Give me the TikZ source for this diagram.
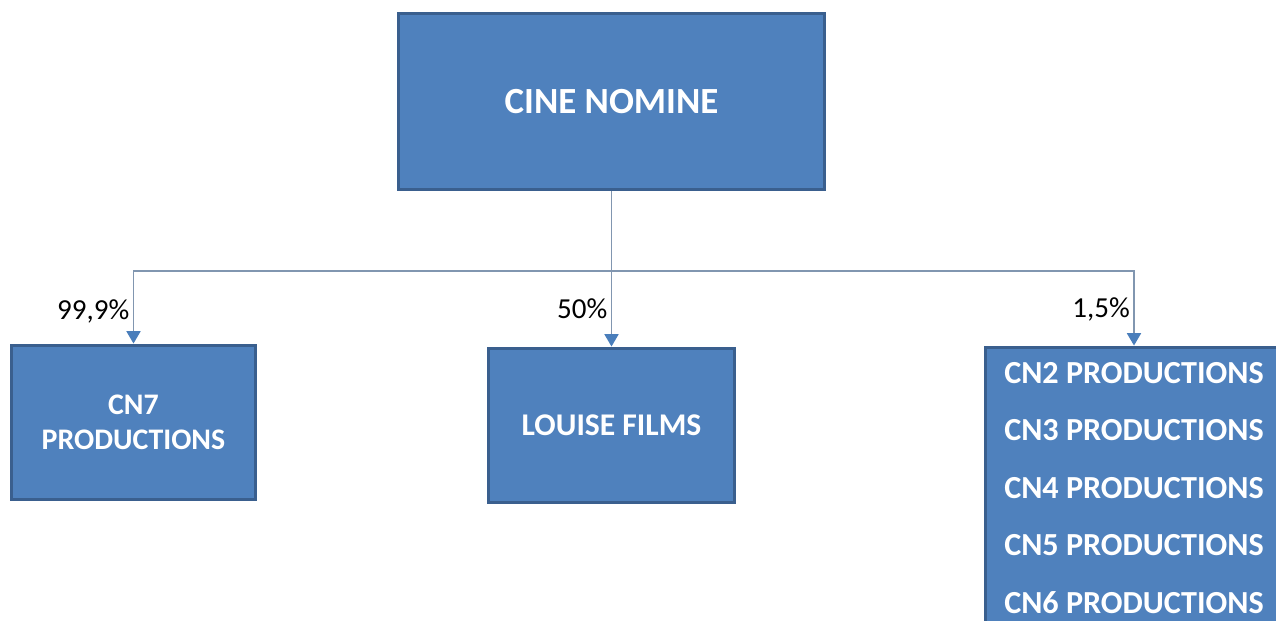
\documentclass[tikz,border=0pt]{standalone}
\usepackage{fontspec}
\setmainfont{Carlito}
\usetikzlibrary{arrows.meta}
\definecolor{relleno}{HTML}{4F81BD}
\definecolor{borde}{HTML}{3A5F8E}
\definecolor{linea}{HTML}{8196B0}
\definecolor{punta}{HTML}{4A7EBB}
\tikzset{
  caja/.style={draw=borde, line width=1.7pt, fill=relleno, text=white,
    font=\bfseries\fontsize{17}{20}\selectfont, align=center, inner sep=0pt},
  flecha/.style={draw=linea, line width=0.8pt,
    -{Triangle[width=8pt, length=7pt, color=punta]}},
  pct/.style={left, inner sep=2pt, font=\fontsize{16.5}{19}\selectfont}
}
\begin{document}
\begin{tikzpicture}[x=0.02cm, y=-0.02cm]
  \useasboundingbox (0,0) rectangle (1276,621);
  \clip (0,0) rectangle (1276,621);
  % Sociedad madre
  \node[caja, minimum width=8.54cm, minimum height=3.54cm,
    font=\bfseries\fontsize{21}{25}\selectfont] (cine) at (611.5,101.5) {CINE NOMINE};

  % Filiales
  \node[caja, minimum width=4.9cm, minimum height=3.1cm] (cn7) at (133.5,422.5) {CN7\\PRODUCTIONS};
  \node[caja, minimum width=4.94cm, minimum height=3.1cm,
    font=\bfseries\fontsize{18}{21}\selectfont] (louise) at (611.5,425.5) {LOUISE FILMS};
  \node[caja, minimum width=5.96cm, minimum height=5.64cm,
    font=\bfseries\fontsize{18.3}{32.7}\selectfont] (cnx) at (1134,488)
    {CN2 PRODUCTIONS\\CN3 PRODUCTIONS\\CN4 PRODUCTIONS\\CN5 PRODUCTIONS\\CN6 PRODUCTIONS};

  % Conexiones
  \coordinate (reparto) at (611.5,271);
  \draw[draw=linea, line width=0.8pt] (cine.south) -- (reparto);
  \draw[flecha] (reparto) -| (cn7.north) node[pct, pos=0.78] {99,9\%};
  \draw[flecha] (reparto) -- (louise.north) node[pct, pos=0.5] {50\%};
  \draw[flecha] (reparto) -| (cnx.north) node[pct, pos=0.76] {1,5\%};
\end{tikzpicture}
\end{document}
